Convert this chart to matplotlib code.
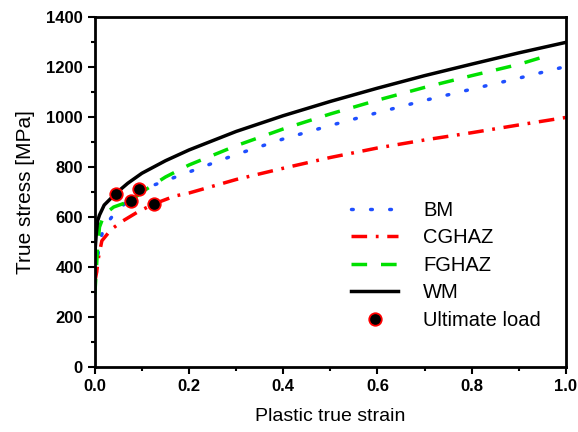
import matplotlib
matplotlib.use("Agg")
import matplotlib.pyplot as plt
from matplotlib.ticker import MultipleLocator, FormatStrFormatter

plt.rcParams['font.family'] = ['Liberation Sans', 'DejaVu Sans']

wm_x = [0.0, 0.003, 0.006, 0.01, 0.02, 0.045, 0.07, 0.1, 0.15, 0.2, 0.3, 0.4, 0.5, 0.6, 0.7, 0.8, 0.9, 1.0]
wm_y = [450, 530, 585, 608, 648, 695, 735, 775, 825, 868, 942, 1005, 1062, 1115, 1165, 1211, 1256, 1298]

fg_x = [0.0, 0.003, 0.006, 0.01, 0.02, 0.04, 0.076, 0.1, 0.15, 0.2, 0.3, 0.4, 0.5, 0.6, 0.7, 0.8, 0.9, 0.97]
fg_y = [290, 380, 480, 560, 610, 640, 664, 700, 760, 808, 885, 952, 1012, 1067, 1118, 1165, 1210, 1250]

bm_x = [0.0, 0.005, 0.01, 0.02, 0.04, 0.07, 0.1, 0.15, 0.2, 0.3, 0.4, 0.5, 0.6, 0.7, 0.8, 0.9, 0.99]
bm_y = [300, 420, 500, 560, 610, 665, 710, 745, 780, 850, 912, 966, 1017, 1066, 1111, 1155, 1197]

cg_x = [0.0, 0.004, 0.008, 0.015, 0.035, 0.06, 0.09, 0.125, 0.17, 0.2, 0.3, 0.4, 0.5, 0.6, 0.7, 0.8, 0.9, 1.0]
cg_y = [340, 380, 440, 505, 551, 585, 619, 652, 684, 696, 750, 795, 838, 876, 908, 937, 968, 998]

ult_x = [0.045, 0.076, 0.094, 0.125]
ult_y = [692, 664, 711, 652]

fig = plt.figure(figsize=(5.78, 4.32), dpi=100)
ax = fig.add_axes([0.164, 0.150, 0.815, 0.811])

ax.plot(bm_x, bm_y, color='#1f4fff', lw=2.5, linestyle=(0, (0.5, 5.0)),
        dash_capstyle='round', label='BM')
ax.plot(cg_x, cg_y, color='#ff0000', lw=2.5, linestyle=(0, (4.5, 2.5, 0.8, 2.5)), label='CGHAZ')
ax.plot(fg_x, fg_y, color='#00e000', lw=2.5, linestyle=(0, (4.5, 4.0)), label='FGHAZ')
ax.plot(wm_x, wm_y, color='black', lw=2.5, label='WM')
ax.plot(ult_x, ult_y, linestyle='none', marker='o', markersize=9,
        markerfacecolor='black', markeredgecolor='red', markeredgewidth=1.3,
        label='Ultimate load')

ax.set_xlim(0, 1.0)
ax.set_ylim(0, 1400)
ax.xaxis.set_major_locator(MultipleLocator(0.2))
ax.xaxis.set_minor_locator(MultipleLocator(0.1))
ax.xaxis.set_major_formatter(FormatStrFormatter('%.1f'))
ax.yaxis.set_major_locator(MultipleLocator(200))
ax.yaxis.set_minor_locator(MultipleLocator(100))
ax.tick_params(which='both', direction='out', width=1.5, top=False, right=False)
ax.tick_params(which='major', length=5, labelsize=12)
ax.tick_params(which='minor', length=3)
for lab in ax.get_xticklabels() + ax.get_yticklabels():
    lab.set_fontweight('bold')
for s in ax.spines.values():
    s.set_linewidth(2)

ax.set_xlabel('Plastic true strain', fontsize=14, labelpad=10)
ax.set_ylabel('True stress [MPa]', fontsize=15, labelpad=8)

leg = ax.legend(loc='lower right', bbox_to_anchor=(0.985, 0.055), frameon=False,
                fontsize=14.5, handlelength=2.3, labelspacing=0.42, handletextpad=1.25)

fig.savefig('out.png', dpi=100)
